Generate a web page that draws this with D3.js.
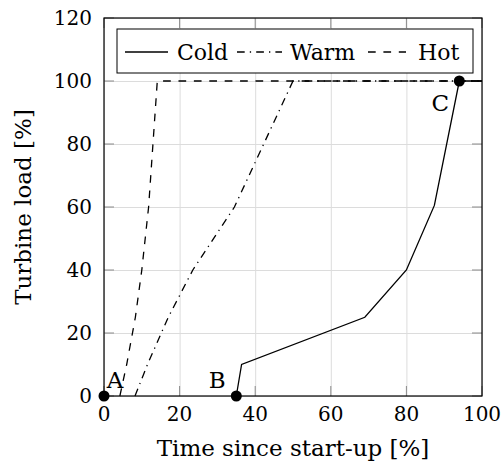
<!DOCTYPE html>
<html>
<head>
<meta charset="utf-8">
<script src="https://cdn.jsdelivr.net/npm/d3@7"></script>
<style>
  body { margin: 0; background: #fff; }
</style>
</head>
<body>
<svg id="chart"></svg>
<script>
// start-up curves, [time %, load %]
const cold = [[35, 0], [36.4, 10], [69, 25], [80, 40], [87.4, 60.5], [94, 100], [100, 100]];
const warm = [[8.2, 0], [11.5, 10], [17, 25], [23.5, 40], [34.5, 60], [50, 100], [100, 100]];
const hot = [[4.2, 0], [6, 10], [8.3, 25], [10, 40], [11.8, 60], [14.1, 100], [100, 100]];
const markers = [{ name: "A", x: 0, y: 0 }, { name: "B", x: 35, y: 0 }, { name: "C", x: 94, y: 100 }];
const xTicks = [0, 20, 40, 60, 80, 100];
const yTicks = [0, 20, 40, 60, 80, 100, 120];
const legendNames = ["Cold", "Warm", "Hot"];

const W = 503, H = 466;
const margin = { top: 18, right: 21, bottom: 70, left: 104 };
const width = W - margin.left - margin.right, height = H - margin.top - margin.bottom;
const serif = "'DejaVu Serif', serif";

const svg = d3.select("#chart").attr("width", W).attr("height", H)
  .attr("font-family", serif).style("font-family", serif);
const g = svg.append("g").attr("transform", `translate(${margin.left},${margin.top})`);

const x = d3.scaleLinear().domain([0, 100]).range([0, width]);
const y = d3.scaleLinear().domain([0, 120]).range([height, 0]);

// grid
g.append("g").attr("transform", `translate(0,${height})`)
  .call(d3.axisBottom(x).tickValues(xTicks).tickSize(-height).tickFormat(""))
  .call(a => a.select(".domain").remove())
  .selectAll("line").attr("stroke", "#dcdcdc").attr("stroke-width", 1);
g.append("g")
  .call(d3.axisLeft(y).tickValues(yTicks).tickSize(-width).tickFormat(""))
  .call(a => a.select(".domain").remove())
  .selectAll("line").attr("stroke", "#dcdcdc").attr("stroke-width", 1);

// inner ticks on all four sides
const tk = 10;
const tickG = g.append("g").attr("stroke", "#8a8a8a").attr("stroke-width", 1);
xTicks.forEach(v => {
  tickG.append("line").attr("x1", x(v)).attr("x2", x(v)).attr("y1", height).attr("y2", height - tk);
  tickG.append("line").attr("x1", x(v)).attr("x2", x(v)).attr("y1", 0).attr("y2", tk);
});
yTicks.forEach(v => {
  tickG.append("line").attr("x1", 0).attr("x2", tk).attr("y1", y(v)).attr("y2", y(v));
  tickG.append("line").attr("x1", width).attr("x2", width - tk).attr("y1", y(v)).attr("y2", y(v));
});

// tick labels
g.append("g").selectAll("text").data(xTicks).join("text")
  .attr("x", d => x(d)).attr("y", height + 25)
  .attr("text-anchor", "middle").attr("font-size", 20).text(d => d);
g.append("g").selectAll("text").data(yTicks).join("text")
  .attr("x", -12).attr("y", d => y(d) + 7)
  .attr("text-anchor", "end").attr("font-size", 20).text(d => d);

// frame
g.append("rect").attr("width", width).attr("height", height)
  .attr("fill", "none").attr("stroke", "#000").attr("stroke-width", 1.2);

// curves
const line = d3.line().x(d => x(d[0])).y(d => y(d[1]));
const styles = [
  { data: cold, dash: null },
  { data: warm, dash: "7.7,5.1,1.3,5.1" },
  { data: hot, dash: "7.7,7.7" }
];
styles.forEach(s => {
  g.append("path").datum(s.data).attr("d", line)
    .attr("fill", "none").attr("stroke", "#000").attr("stroke-width", 1.3)
    .attr("stroke-dasharray", s.dash);
});

// marked points
g.selectAll(".mk").data(markers).join("circle")
  .attr("class", "mk").attr("cx", d => x(d.x)).attr("cy", d => y(d.y)).attr("r", 5.5).attr("fill", "#000");
const labelOff = { A: [11, -8], B: [-19, -8], C: [-19, 30] };
g.selectAll(".ml").data(markers).join("text")
  .attr("class", "ml").attr("x", d => x(d.x) + labelOff[d.name][0]).attr("y", d => y(d.y) + labelOff[d.name][1])
  .attr("text-anchor", "middle").attr("font-size", 23).text(d => d.name);

// axis labels
svg.append("text").attr("x", margin.left + width / 2).attr("y", 456)
  .attr("text-anchor", "middle").attr("font-size", 23)
  .text("Time since start-up [%]");
svg.append("text").attr("transform", `translate(31,${margin.top + height / 2}) rotate(-90)`)
  .attr("text-anchor", "middle").attr("font-size", 23)
  .text("Turbine load [%]");

// legend
const lg = svg.append("g");
lg.append("rect").attr("x", 117).attr("y", 29).attr("width", 356).attr("height", 44)
  .attr("fill", "#fff").attr("stroke", "#000").attr("stroke-width", 1);
const legendPos = [{ l: 125, r: 168, t: 177 }, { l: 237, r: 282, t: 290 }, { l: 368, r: 406, t: 418 }];
legendNames.forEach((name, i) => {
  const p = legendPos[i];
  lg.append("line").attr("x1", p.l).attr("x2", p.r).attr("y1", 52).attr("y2", 52)
    .attr("stroke", "#000").attr("stroke-width", 1.3).attr("stroke-dasharray", styles[i].dash);
  lg.append("text").attr("x", p.t).attr("y", 60).attr("font-size", 22).text(name);
});
</script>
</body>
</html>
